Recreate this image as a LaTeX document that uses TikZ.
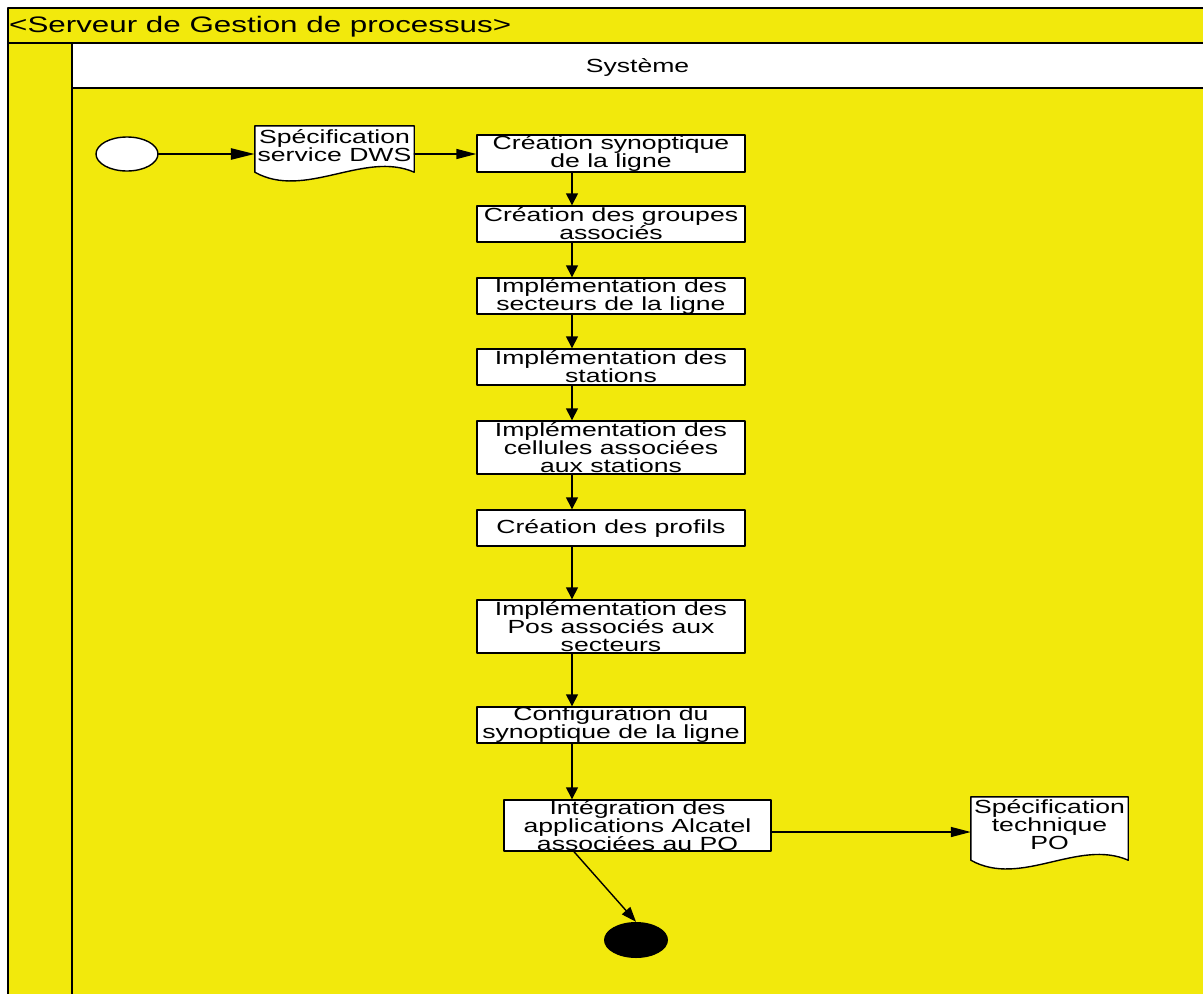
\documentclass[tikz,border=0pt]{standalone}
\usepackage{fontspec}
\setmainfont{Liberation Sans}[FakeStretch=1.4]
\usepackage{tikz}
\usepackage{xcolor}
\usetikzlibrary{arrows.meta,calc,positioning,shapes.geometric}
\definecolor{couloir}{RGB}{242,233,12}
\tikzset{
  every picture/.append style={line cap=round,line join=round},
  sgp trait/.style={black,line width=1.4pt},
  sgp box/.style={draw,sgp trait,fill=white,rectangle,inner sep=0pt,align=center,
    minimum width=268pt,minimum height=36pt,font=\fontsize{19}{18}\selectfont},
  sgp doc/.style={inner sep=0pt,align=center,font=\fontsize{19}{18}\selectfont},
  sgp start/.style={ellipse,draw,sgp trait,fill=white,minimum width=62pt,minimum height=34pt,inner sep=0pt},
  sgp end/.style={ellipse,fill=black,minimum width=64pt,minimum height=36pt,inner sep=0pt},
  sgp down/.style={sgp trait,-{Triangle[length=12pt,width=12pt]}},
  sgp side/.style={sgp trait,-{Triangle[length=20pt,width=10pt]}},
  sgp diag/.style={sgp trait,-{Triangle[length=15pt,width=11pt]}},
  sgp note/.style={inner sep=0pt,font=\fontsize{19}{18}\selectfont}
}
\newcommand\sgpdocforme[1]{%
  \filldraw[sgp trait,fill=white] (#1.north west) -- (#1.north east) -- (#1.south east)
    .. controls +(-50,-22) and +(50,28) .. (#1.south west) -- cycle;}

\begin{document}
\begin{tikzpicture}[x=1pt,y=-1pt]
  \useasboundingbox (0,0) rectangle (1203,994);
  \clip (0,0) rectangle (1203,994);
  \fill[white] (0,0) rectangle (1203,994);
  % couloir
  \fill[couloir] (8,8) rectangle (1215,1005);
  \fill[white] (72,43) rectangle (1215,88);
  \draw[sgp trait] (1215,8) -- (8,8) -- (8,1005);
  \draw[sgp trait] (8,43) -- (1215,43);
  \draw[sgp trait] (72,43) -- (72,1005);
  \draw[sgp trait] (72,88) -- (1215,88);
  \node[anchor=west,inner sep=0pt,font=\fontsize{22.4}{22}\selectfont] (titre) at (9,27) {<Serveur de Gestion de processus>};
  \node[sgp note] (systeme) at (637.5,67) {Système};

  \coordinate (axe) at (572,0);

  \node[sgp start] (debut) at (127,154) {};
  \node[sgp doc,minimum width=159pt,minimum height=46pt] (doc1) at (334.5,149) {};
  \sgpdocforme{doc1}
  \node[sgp doc] (doc1txt) at (334.5,146) {Spécification\\service DWS};

  \node[sgp box,minimum height=37pt] (b1) at (611,153.5) {Création synoptique\\de la ligne};
  \node[sgp box] (b2) at (611,224) {Création des groupes\\associés};
  \node[sgp box] (b3) at (611,296) {Implémentation des\\secteurs de la ligne};
  \node[sgp box] (b4) at (611,367) {Implémentation des\\stations};
  \node[sgp box,minimum height=53pt] (b5) at (611,447.5) {Implémentation des\\cellules associées\\aux stations};
  \node[sgp box] (b6) at (611,528) {Création des profils};
  \node[sgp box,minimum height=53pt] (b7) at (611,626.5) {Implémentation des\\Pos associés aux\\secteurs};
  \node[sgp box] (b8) at (611,725) {Configuration du\\synoptique de la ligne};
  \node[sgp box,minimum width=267pt,minimum height=51pt] (b9) at (637.5,825.5) {Intégration des\\applications Alcatel\\associées au PO};

  \node[sgp doc,minimum width=157pt,minimum height=63pt] (doc2) at (1049.5,828.5) {};
  \sgpdocforme{doc2}
  \node[sgp doc] (doc2txt) at (1049.5,825) {Spécification\\technique\\PO};

  \node[sgp end] (fin) at (636,940) {};

  \draw[sgp trait,line width=2.6pt,-{Triangle[length=24pt,width=11pt]}] (debut.east) -- (debut.east -| doc1.west);
  \draw[sgp side] (debut.east -| doc1.east) -- (debut.east -| b1.west);
  \draw[sgp down] (b1.south -| axe) -- (b2.north -| axe);
  \draw[sgp down] (b2.south -| axe) -- (b3.north -| axe);
  \draw[sgp down] (b3.south -| axe) -- (b4.north -| axe);
  \draw[sgp down] (b4.south -| axe) -- (b5.north -| axe);
  \draw[sgp down] (b5.south -| axe) -- (b6.north -| axe);
  \draw[sgp down] (b6.south -| axe) -- (b7.north -| axe);
  \draw[sgp down] (b7.south -| axe) -- (b8.north -| axe);
  \draw[sgp down] (b8.south -| axe) -- (b9.north -| axe);
  \draw[sgp side] ([yshift=-6.5pt]b9.east) -- ([yshift=-6.5pt]b9.east -| doc2.west);
  \draw[sgp diag] ([xshift=2pt]b9.south -| axe) -- (fin.north);
\end{tikzpicture}
\end{document}
